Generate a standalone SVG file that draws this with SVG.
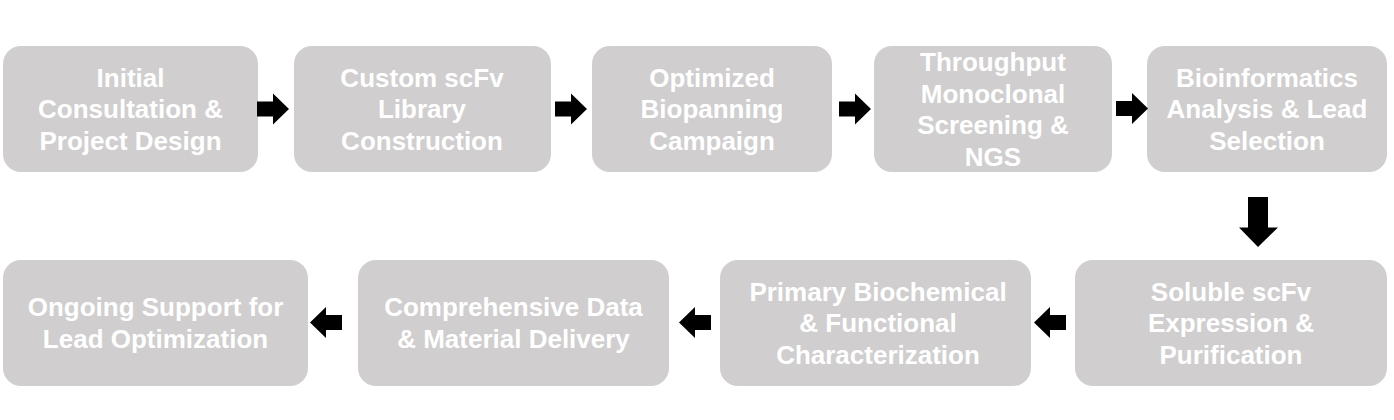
<svg xmlns="http://www.w3.org/2000/svg" xmlns:xlink="http://www.w3.org/1999/xlink" width="1394" height="420" viewBox="0 0 1394 420">
<defs>
<style>
.box{fill:#d0cece;}
.t{font-family:"Liberation Sans",Arial,sans-serif;font-weight:bold;font-size:26px;fill:#ffffff;text-anchor:middle;}
.arr{fill:#000000;}
</style>
<polygon id="ar" points="0,-7.5 16,-7.5 16,-15.5 32,0 16,15.5 16,7.5 0,7.5"/>
</defs>
<rect width="1394" height="420" fill="#ffffff"/>
<g id="n1"><rect class="box" x="3" y="46" width="255" height="126" rx="18"/>
<text class="t" x="130.5"><tspan x="130.5" y="86.5">Initial</tspan><tspan x="130.5" y="118">Consultation &amp;</tspan><tspan x="130.5" y="149.5">Project Design</tspan></text></g>
<g id="n2"><rect class="box" x="294" y="46" width="257" height="126" rx="18"/>
<text class="t"><tspan x="422" y="86.5">Custom scFv</tspan><tspan x="422" y="118">Library</tspan><tspan x="422" y="149.5">Construction</tspan></text></g>
<g id="n3"><rect class="box" x="592" y="46" width="240" height="126" rx="18"/>
<text class="t"><tspan x="712" y="86.5">Optimized</tspan><tspan x="712" y="118">Biopanning</tspan><tspan x="712" y="149.5">Campaign</tspan></text></g>
<g id="n4"><rect class="box" x="874" y="46" width="238" height="126" rx="18"/>
<text class="t"><tspan x="993" y="71">Throughput</tspan><tspan x="993" y="102.5">Monoclonal</tspan><tspan x="993" y="134">Screening &amp;</tspan><tspan x="993" y="165.5">NGS</tspan></text></g>
<g id="n5"><rect class="box" x="1147" y="46" width="240" height="126" rx="18"/>
<text class="t"><tspan x="1267" y="86.5">Bioinformatics</tspan><tspan x="1267" y="118">Analysis &amp; Lead</tspan><tspan x="1267" y="149.5">Selection</tspan></text></g>
<g id="n6"><rect class="box" x="1075" y="260" width="312" height="126" rx="18"/>
<text class="t"><tspan x="1231" y="300.5">Soluble scFv</tspan><tspan x="1231" y="332">Expression &amp;</tspan><tspan x="1231" y="363.5">Purification</tspan></text></g>
<g id="n7"><rect class="box" x="720" y="260" width="311" height="126" rx="18"/>
<text class="t"><tspan x="878" y="300.5">Primary Biochemical</tspan><tspan x="878" y="332">&amp; Functional</tspan><tspan x="878" y="363.5">Characterization</tspan></text></g>
<g id="n8"><rect class="box" x="358" y="260" width="311" height="126" rx="18"/>
<text class="t"><tspan x="513.5" y="316">Comprehensive Data</tspan><tspan x="513.5" y="347.5">&amp; Material Delivery</tspan></text></g>
<g id="n9"><rect class="box" x="3" y="260" width="305" height="126" rx="18"/>
<text class="t"><tspan x="155.5" y="316">Ongoing Support for</tspan><tspan x="155.5" y="347.5">Lead Optimization</tspan></text></g>
<g id="connectors" class="arr">
<use xlink:href="#ar" transform="translate(257,109)"/>
<use xlink:href="#ar" transform="translate(555,109)"/>
<use xlink:href="#ar" transform="translate(839,109)"/>
<use xlink:href="#ar" transform="translate(1116,108.5)"/>
<polygon points="1248,197 1268,197 1268,227.5 1278,227.5 1258,247 1239,227.5 1248,227.5"/>
<use xlink:href="#ar" transform="translate(1066,322.5) scale(-1,1)"/>
<use xlink:href="#ar" transform="translate(711,322.5) scale(-1,1)"/>
<use xlink:href="#ar" transform="translate(342,322.5) scale(-1,1)"/>
</g>
</svg>
